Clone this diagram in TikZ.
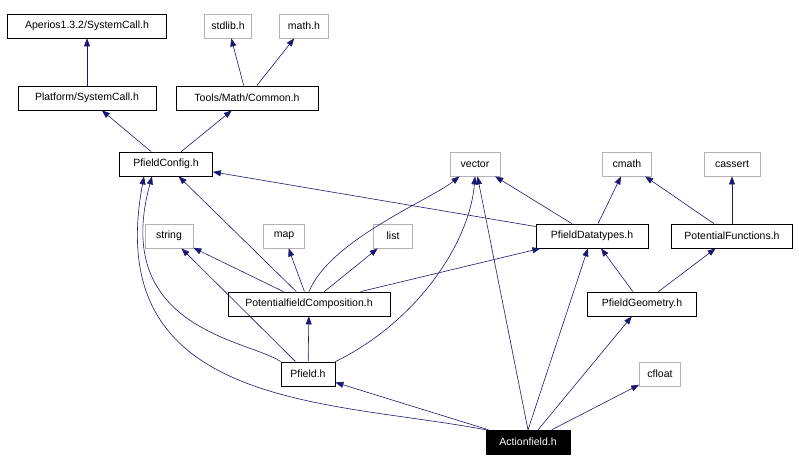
\documentclass[tikz,border=0pt]{standalone}
\usepackage{fontspec}
\setmainfont{Liberation Sans}
\usetikzlibrary{arrows.meta}
\definecolor{edge}{RGB}{25,25,112}
\begin{document}
\begin{tikzpicture}[x=1pt,y=-1pt,
  every node/.style={font=\fontsize{10.5}{12}\selectfont},
  b/.style={draw=black,fill=white,inner sep=0pt,minimum height=24pt,line width=0.8pt},
  g/.style={draw=gray!60,fill=white,inner sep=0pt,minimum height=24pt,line width=0.8pt},
  e/.style={draw=edge,line width=0.6pt,-{Triangle[length=8pt,width=6pt]}}]
\useasboundingbox (0,0) rectangle (799,471);
\node[b,minimum width=159pt] (ap) at (87,26) {Aperios1.3.2/SystemCall.h};
\node[g,minimum width=47pt] (sl) at (228,26) {stdlib.h};
\node[g,minimum width=49pt] (mh) at (304,26) {math.h};
\node[b,minimum width=138pt] (pl) at (87,98) {Platform/SystemCall.h};
\node[b,minimum width=142pt] (tm) at (247,98) {Tools/Math/Common.h};
\node[b,minimum width=93pt] (pc) at (166,164) {PfieldConfig.h};
\node[g,minimum width=50pt] (ve) at (475,164) {vector};
\node[g,minimum width=49pt] (cm) at (627,164) {cmath};
\node[g,minimum width=56pt] (ca) at (732,164) {cassert};
\node[g,minimum width=48pt] (st) at (169,236) {string};
\node[g,minimum width=41pt] (mp) at (284,236) {map};
\node[g,minimum width=39pt] (li) at (393,236) {list};
\node[b,minimum width=112pt] (pd) at (592,236) {PfieldDatatypes.h};
\node[b,minimum width=121pt] (pf) at (732,236) {PotentialFunctions.h};
\node[b,minimum width=162pt] (co) at (309,304) {PotentialfieldComposition.h};
\node[b,minimum width=109pt] (pg) at (642,304) {PfieldGeometry.h};
\node[b,minimum width=54pt] (pi) at (308,374) {Pfield.h};
\node[g,minimum width=41pt] (cf) at (660,374) {cfloat};
\node[draw=black,fill=black,text=white,inner sep=0pt,minimum height=24pt,minimum width=84pt] (af) at (528,442) {Actionfield.h};
\draw[e] (pl) -- (ap);
\draw[e] (tm) -- (sl);
\draw[e] (tm) -- (mh);
\draw[e] (pc) -- (pl);
\draw[e] (pc) -- (tm);
\draw[e] (pd) -- (pc);
\draw[e] (pd) -- (ve);
\draw[e] (pd) -- (cm);
\draw[e] (pf) -- (cm);
\draw[e] (pf) -- (ca);
\draw[e] (co) -- (pc);
\draw[e] (co.north) .. controls (330,240) and (430,200) .. (ve);
\draw[e] (co) -- (st);
\draw[e] (co) -- (mp);
\draw[e] (co) -- (li);
\draw[e] (co) -- (pd);
\draw[e] (pg) -- (pd);
\draw[e] (pg) -- (pf);
\draw[e] (pi) -- (co);
\draw[e] (pi) -- (st);
\draw[e] (pi.north west) .. controls (250,340) and (110,330) .. ([xshift=-14pt]pc.south);
\draw[e] (pi.north east) .. controls (420,320) and (470,240) .. (ve.south);
\draw[e] (af.north west) .. controls (330,400) and (100,410) .. ([xshift=-22pt]pc.south);
\draw[e] (af) -- (pi);
\draw[e] (af.north) -- (ve);
\draw[e] (af.north) -- (pd);
\draw[e] (af) -- (pg);
\draw[e] (af) -- (cf);
\end{tikzpicture}
\end{document}
